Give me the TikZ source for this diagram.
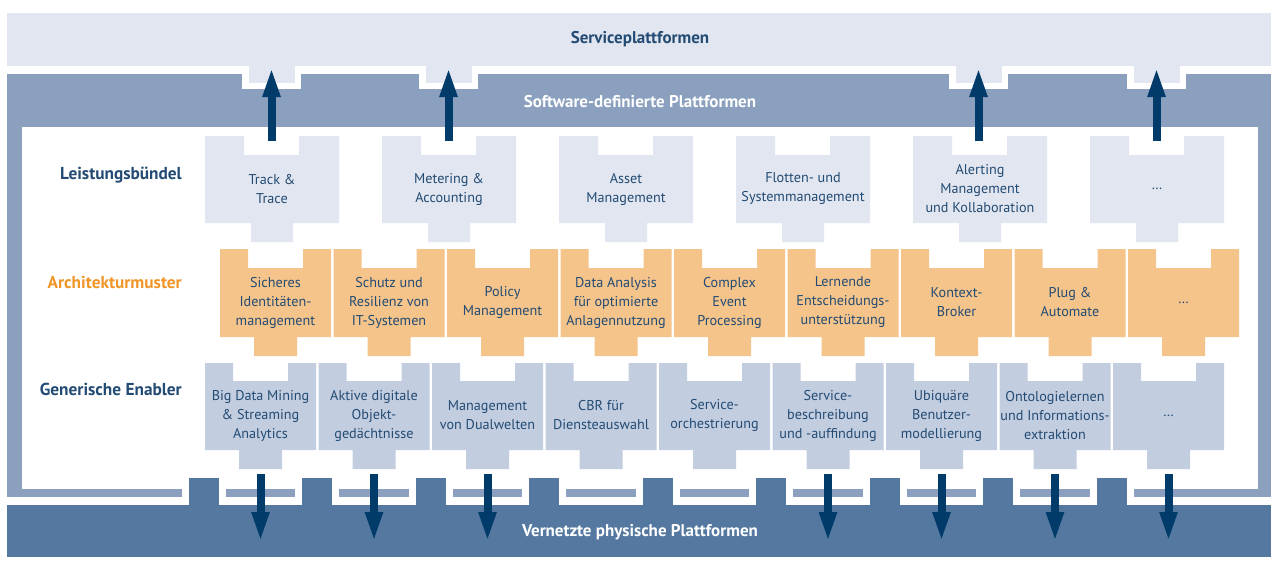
\documentclass[tikz,border=0pt]{standalone}
\usepackage{fontspec}
\setmainfont{PT Sans}
\usetikzlibrary{arrows.meta}
\definecolor{svc}{RGB}{225,230,240}
\definecolor{frm}{RGB}{138,160,190}
\definecolor{lbox}{RGB}{225,230,240}
\definecolor{obox}{RGB}{245,196,138}
\definecolor{gbox}{RGB}{194,205,224}
\definecolor{phys}{RGB}{84,120,160}
\definecolor{navy}{RGB}{0,59,106}
\definecolor{txt}{RGB}{35,75,115}
\definecolor{orl}{RGB}{240,150,40}
\tikzset{
  btxt/.style={text=txt, align=center, font=\fontsize{14.2}{19}\selectfont, inner sep=0pt},
  lab/.style={font=\fontsize{17.3}{19}\selectfont\bfseries, anchor=east, inner sep=0pt},
  band/.style={font=\fontsize{17}{19}\selectfont\bfseries, inner sep=0pt},
  upar/.style={draw=navy, line width=8pt, -{Triangle[width=16pt,length=30pt,fill=navy]}},
}
\newcommand\Lpiece[3]{%
  \fill[lbox] (#2,136) -- ++(39,0) -- ++(0,19) -- ++(55,0) -- ++(0,-19) -- ++(40,0) -- ++(0,87) -- ++(-46,0) -- ++(0,19) -- ++(-42,0) -- ++(0,-19) -- ++(-46,0) -- cycle;
  \node[btxt] (#1) at ({#2+67},189) {#3};
}
\newcommand\Opiece[3]{%
  \fill[obox] (#2,249) -- ++(28,0) -- ++(0,19) -- ++(55,0) -- ++(0,-19) -- ++(28,0) -- ++(0,88) -- ++(-34,0) -- ++(0,19) -- ++(-43,0) -- ++(0,-19) -- ++(-34,0) -- cycle;
  \node[btxt] (#1) at ({#2+55.5},302.5) {#3};
}
\newcommand\Gpiece[3]{%
  \fill[gbox] (#2,363) -- ++(28,0) -- ++(0,18) -- ++(55,0) -- ++(0,-18) -- ++(28,0) -- ++(0,87) -- ++(-34,0) -- ++(0,19) -- ++(-43,0) -- ++(0,-19) -- ++(-34,0) -- cycle;
  \node[btxt] (#1) at ({#2+55.5},415.5) {#3};
}
\begin{document}
\begin{tikzpicture}[x=1pt,y=-1pt]
\useasboundingbox[fill=white] (0,0) rectangle (1271,565);
% software-defined frame
\fill[frm] (7,74) rectangle (1271,497);
\fill[white] (22,127) rectangle (1258,489);
\foreach \c in {271.5,448.5,978.5,1156.5}{
  \fill[white] ({\c-29.5},73) rectangle ({\c+29.5},89);
}
% service platforms
\fill[svc] (7,13) rectangle (1271,66);
\foreach \c in {271.5,448.5,978.5,1156.5}{
  \fill[svc] ({\c-23},65) rectangle ({\c+23},83);
}
% physical platforms
\foreach \c in {203.5,317,430.5,544,657.5,771,884.5,998,1111.5}{
  \fill[white] ({\c-22},488) rectangle ({\c+22},505);
  \fill[phys] ({\c-15},478) rectangle ({\c+15},506);
}
\fill[phys] (7,505) rectangle (1271,557);
% Leistungsbuendel
\Lpiece{l1}{205}{Track \&\\Trace}
\Lpiece{l2}{382}{Metering \&\\Accounting}
\Lpiece{l3}{559}{Asset\\Management}
\Lpiece{l4}{736}{Flotten- und\\Systemmanagement}
\Lpiece{l5}{913}{Alerting\\Management\\und Kollaboration}
\Lpiece{l6}{1090}{…}
% Architekturmuster
\Opiece{o1}{220}{Sicheres\\Identitäten-\\management}
\Opiece{o2}{333.5}{Schutz und\\Resilienz von\\IT-Systemen}
\Opiece{o3}{447}{Policy\\Management}
\Opiece{o4}{560.5}{Data Analysis\\für optimierte\\Anlagennutzung}
\Opiece{o5}{674}{Complex\\Event\\Processing}
\Opiece{o6}{787.5}{Lernende\\Entscheidungs-\\unterstützung}
\Opiece{o7}{901}{Kontext-\\Broker}
\Opiece{o8}{1014.5}{Plug \&\\Automate}
\Opiece{o9}{1128}{…}
% Generische Enabler
\Gpiece{g1}{205}{Big Data Mining\\\& Streaming\\Analytics}
\Gpiece{g2}{318.5}{Aktive digitale\\Objekt-\\gedächtnisse}
\Gpiece{g3}{432}{Management\\von Dualwelten}
\Gpiece{g4}{545.5}{CBR für\\Diensteauswahl}
\Gpiece{g5}{659}{Service-\\orchestrierung}
\Gpiece{g6}{772.5}{Service-\\beschreibung\\und -auffindung}
\Gpiece{g7}{886}{Ubiquäre\\Benutzer-\\modellierung}
\Gpiece{g8}{999.5}{Ontologielernen\\und Informations-\\extraktion}
\Gpiece{g9}{1113}{…}
% up arrows
\foreach \c/\n in {271.5/1,448.5/2,978.5/5,1156.5/6}{
  \coordinate (us\n) at (\c,141);
  \coordinate (ue\n) at (\c,67);
  \draw[upar] (us\n) -- (ue\n);
}
% down arrows
\foreach \c/\n in {260.5/1,374/2,487.5/3,828/6,941.5/7,1055/8,1168.5/9}{
  \coordinate (ds\n) at (\c,474);
  \coordinate (de\n) at (\c,542);
  \draw[upar] (ds\n) -- (de\n);
}
% labels
\node[band, text=txt] (svcl) at (640,39) {Serviceplattformen};
\node[band, text=white] (sdpl) at (640,102) {Software-definierte Plattformen};
\node[band, text=white] (phyl) at (640,532) {Vernetzte physische Plattformen};
\node[lab, text=txt] (lbl1) at (182,175) {Leistungsbündel};
\node[lab, text=orl] (lbl2) at (182,282) {Architekturmuster};
\node[lab, text=txt] (lbl3) at (182,389) {Generische Enabler};
\end{tikzpicture}
\end{document}
